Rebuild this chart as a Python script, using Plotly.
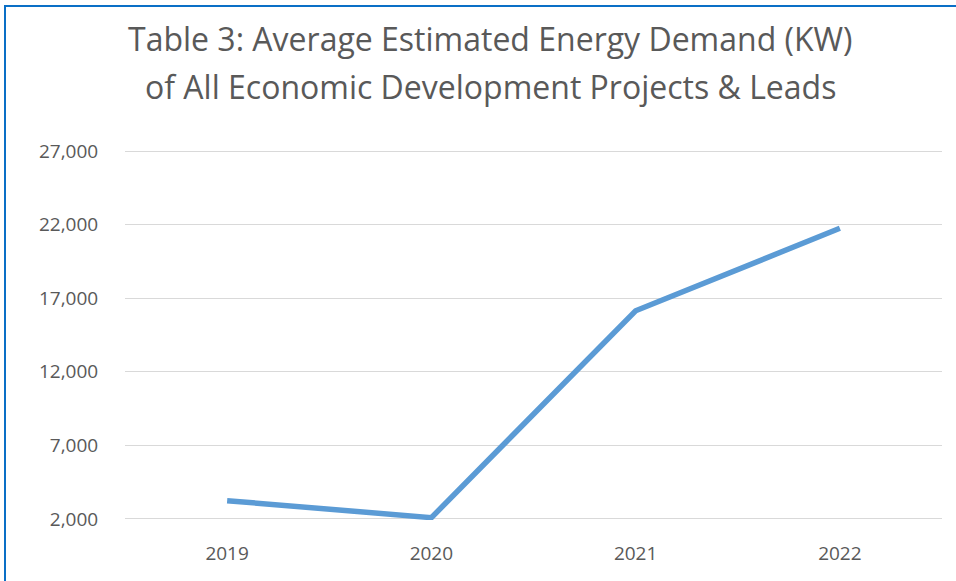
import plotly.graph_objects as go

years = ["2019", "2020", "2021", "2022"]
demand_kw = [3240, 2090, 16150, 21750]
y_ticks = [2000, 7000, 12000, 17000, 22000, 27000]
y_tick_labels = ["2,000", "7,000", "12,000", "17,000", "22,000", "27,000"]
title_lines = ["Table 3: Average Estimated Energy Demand (KW)",
               "of All Economic Development Projects & Leads"]

W, H = 956, 581
L, R, T, B = 125, 14, 150, 61
pw, ph = W - L - R, H - T - B

def px_x(px):
    return (px - L) / pw

def px_y(py):
    return (H - B - py) / ph

fig = go.Figure()
fig.add_trace(go.Scatter(
    x=years, y=demand_kw, mode="lines",
    line=dict(color="#5B9BD5", width=5.5),
    hoverinfo="x+y", cliponaxis=False,
))

annotations = []
for txt, cy in zip(title_lines, [39, 87]):
    annotations.append(dict(
        text=txt, xref="paper", yref="paper",
        x=px_x(490), y=px_y(cy), xanchor="center", yanchor="middle",
        showarrow=False,
        font=dict(family="Open Sans", size=32, color="#595959"),
    ))

fig.update_layout(
    width=W, height=H,
    margin=dict(l=L, r=R, t=T, b=B),
    paper_bgcolor="white", plot_bgcolor="white",
    showlegend=False,
    font=dict(family="Open Sans", color="#595959"),
    annotations=annotations,
    xaxis=dict(
        type="category", showgrid=False, zeroline=False, showline=False,
        tickfont=dict(size=19, color="#595959"),
        ticks="outside", ticklen=16, tickcolor="rgba(0,0,0,0)",
        range=[-0.5, 3.5],
    ),
    yaxis=dict(
        range=[1930, 27070], tickvals=y_ticks, ticktext=y_tick_labels,
        showgrid=True, gridcolor="#D9D9D9", gridwidth=1.3, zeroline=False,
        showline=False, tickfont=dict(size=19, color="#595959"),
        ticks="outside", ticklen=22, tickcolor="rgba(0,0,0,0)",
    ),
    shapes=[dict(
        type="rect", xref="paper", yref="paper",
        x0=px_x(5), x1=px_x(1000), y0=px_y(700), y1=px_y(6),
        line=dict(color="#0A6FC6", width=2), fillcolor="rgba(0,0,0,0)",
        layer="above",
    )],
)

fig.write_html("out.html", config={"displayModeBar": False},
               post_script="document.body.style.margin='0';")
